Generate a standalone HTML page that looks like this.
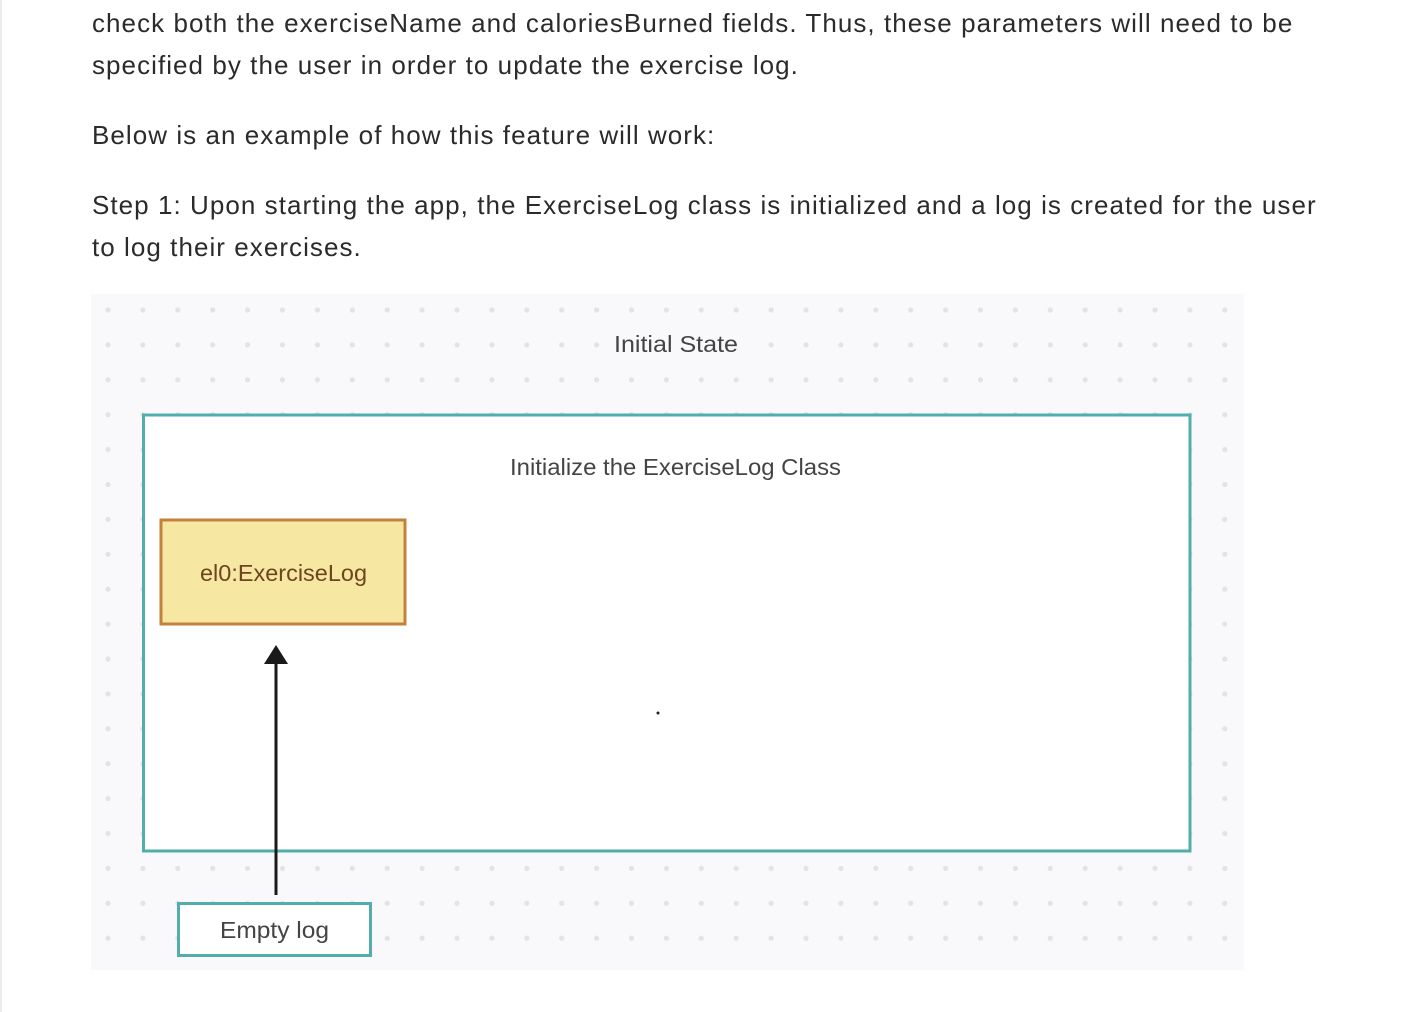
<!DOCTYPE html>
<html><head><style>
body{margin:0;width:1410px;height:1012px;background:#fff;position:relative;overflow:hidden;font-family:"Liberation Sans",sans-serif;}
.lb{position:absolute;left:0;top:0;width:2px;height:1012px;background:#ececec}
p{position:absolute;left:92px;margin:0;font-size:26px;line-height:42px;color:#2b2b2b;white-space:nowrap;letter-spacing:1.05px}
</style></head><body>
<div class="lb"></div>
<p style="top:2px">check both the exerciseName and caloriesBurned fields. Thus, these parameters will need to be<br>specified by the user in order to update the exercise log.</p>
<p style="top:114px">Below is an example of how this feature will work:</p>
<p style="top:184px">Step 1: Upon starting the app, the ExerciseLog class is initialized and a log is created for the user<br>to log their exercises.</p>
<svg style="position:absolute;left:0;top:0" width="1410" height="1012">
<defs><pattern id="d" x="108" y="310" width="34.9" height="34.9" patternUnits="userSpaceOnUse"><circle cx="0" cy="0" r="2.6" fill="#e3e3e6"/><circle cx="34.9" cy="0" r="2.6" fill="#e3e3e6"/><circle cx="0" cy="34.9" r="2.6" fill="#e3e3e6"/><circle cx="34.9" cy="34.9" r="2.6" fill="#e3e3e6"/></pattern></defs>
<rect x="91" y="294" width="1153" height="676" fill="#f9f9fb"/>
<rect x="91" y="294" width="1153" height="676" fill="url(#d)"/>
<rect x="606" y="330" width="142" height="30" fill="#f9f9fb"/>
<text x="614" y="352" textLength="124" lengthAdjust="spacingAndGlyphs" font-family="Liberation Sans,sans-serif" font-size="23" fill="#444">Initial State</text>
<rect x="143.5" y="415" width="1046.5" height="436" fill="#fff" stroke="#52adac" stroke-width="3"/>
<text x="510" y="475" textLength="331" lengthAdjust="spacingAndGlyphs" font-family="Liberation Sans,sans-serif" font-size="23" fill="#444">Initialize the ExerciseLog Class</text>
<rect x="161" y="520" width="244" height="104" fill="#f6e8a2" stroke="#c2823c" stroke-width="3"/>
<text x="200" y="581" textLength="167" lengthAdjust="spacingAndGlyphs" font-family="Liberation Sans,sans-serif" font-size="23" fill="#6e4421">el0:ExerciseLog</text>
<circle cx="658" cy="713" r="1.5" fill="#222"/>
<line x1="276" y1="895" x2="276" y2="660" stroke="#1a1a1a" stroke-width="3"/>
<polygon points="276,645 264,664 288,664" fill="#1a1a1a"/>
<rect x="178.5" y="903.5" width="192" height="52" fill="#fff" stroke="#52adac" stroke-width="3"/>
<text x="220" y="938" textLength="109" lengthAdjust="spacingAndGlyphs" font-family="Liberation Sans,sans-serif" font-size="23" fill="#444">Empty log</text>
</svg>
</body></html>
